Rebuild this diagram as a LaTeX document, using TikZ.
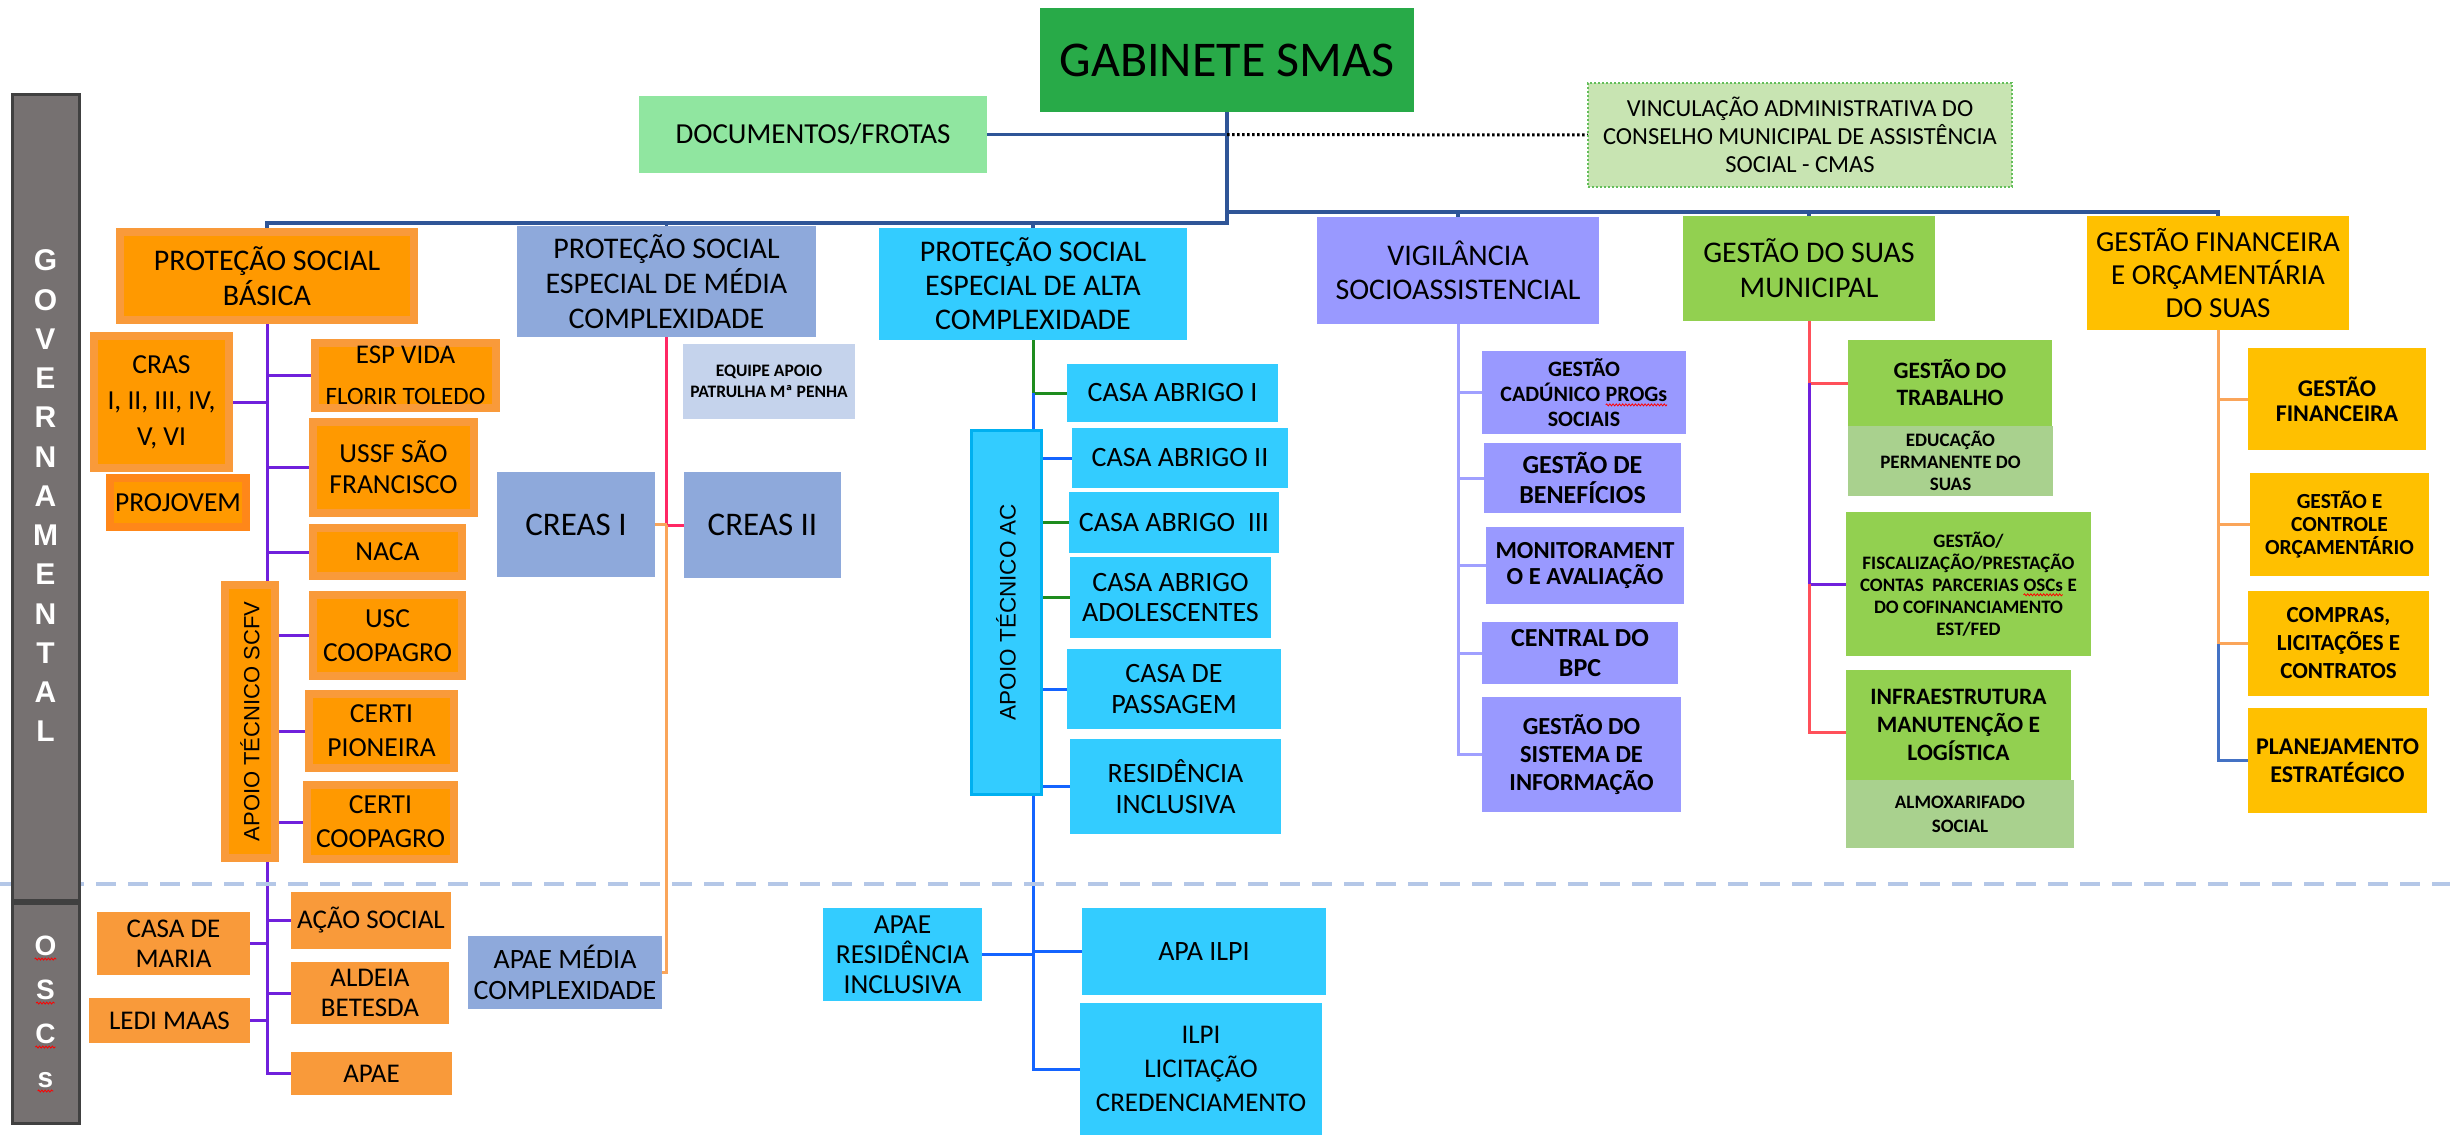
\documentclass[tikz,border=0pt]{standalone}
\usepackage{fontspec}
\setmainfont{Carlito}
\newfontfamily\rotfont{Liberation Sans}
\usepackage{graphicx}
\usetikzlibrary{decorations.pathmorphing}
\pgfdeclarelayer{bg}
\pgfsetlayers{bg,main}

\definecolor{mainblue}{RGB}{47,85,151}
\definecolor{gabgreen}{RGB}{40,170,72}
\definecolor{docgreen}{RGB}{144,230,160}
\definecolor{vincfill}{RGB}{200,228,178}
\definecolor{vincline}{RGB}{100,190,90}
\definecolor{orIn}{RGB}{255,153,0}
\definecolor{orOut}{RGB}{249,154,58}
\definecolor{orDark}{RGB}{255,135,25}
\definecolor{orOsc}{RGB}{249,154,58}
\definecolor{bluegray}{RGB}{142,169,219}
\definecolor{paleblue}{RGB}{197,211,236}
\definecolor{cyanbox}{RGB}{51,204,255}
\definecolor{cyanline}{RGB}{0,176,240}
\definecolor{violetbox}{RGB}{153,153,255}
\definecolor{limegreen}{RGB}{146,208,80}
\definecolor{sagegreen}{RGB}{169,209,142}
\definecolor{goldbox}{RGB}{255,192,0}
\definecolor{barfill}{RGB}{118,113,113}
\definecolor{barline}{RGB}{64,64,64}
\definecolor{sepline}{RGB}{180,199,231}
\definecolor{purpleline}{RGB}{112,32,220}
\definecolor{pinkline}{RGB}{255,40,100}
\definecolor{orangeline}{RGB}{250,165,90}
\definecolor{greenline}{RGB}{30,140,30}
\definecolor{blueline}{RGB}{20,100,255}
\definecolor{violetline}{RGB}{160,160,255}
\definecolor{redline}{RGB}{255,80,90}
\definecolor{gfblue}{RGB}{68,114,196}

\newcommand\spell[2][black]{\tikz[baseline=(w.base)]{\node[inner sep=0pt, outer sep=0pt, minimum size=0pt, shape=rectangle, text=#1] (w) {#2}; \draw[red, line width=0.8pt, decorate, decoration={snake, amplitude=1pt, segment length=3.2pt}] ([yshift=-3.5pt]w.base west) -- ([yshift=-3.5pt]w.base east);}}
\newcommand{\bx}[7]{\node[#2, minimum width={#5-#3}, minimum height={#6-#4}] (#1) at ({(#3+#5)/2},{(#4+#6)/2}) {#7};}

\tikzset{
  box/.style={inner sep=0pt, outer sep=0pt, align=center, text=black},
  frameor/.style={box, fill=orOut, path picture={\fill[orIn] ([shift={(8pt,8pt)}]path picture bounding box.south west) rectangle ([shift={(-8pt,-8pt)}]path picture bounding box.north east);}},
  frameproj/.style={frameor, fill=orDark},
  oscbox/.style={box, fill=orOsc},
  bar/.style={box, fill=barfill, draw=barline, line width=3pt},
  fs/.style 2 args={font=\fontsize{#1}{#2}\selectfont},
  fb/.style 2 args={font=\bfseries\fontsize{#1}{#2}\selectfont},
  mainc/.style={draw=mainblue, line width=3.5pt},
  purp/.style={draw=purpleline, line width=3pt},
  pinkc/.style={draw=pinkline, line width=3pt},
  orc/.style={draw=orangeline, line width=3pt},
  grc/.style={draw=greenline, line width=3pt},
  blc/.style={draw=blueline, line width=3pt},
  vic/.style={draw=violetline, line width=3pt},
  redc/.style={draw=redline, line width=3pt},
  gfb/.style={draw=gfblue, line width=3pt},
}

\begin{document}
\begin{tikzpicture}[x=1pt,y=-1pt]
\useasboundingbox (0,0) rectangle (2450,1138);

% side bars
\bx{gov}{bar}{12}{94}{79}{900}{}
\bx{osc}{bar}{12}{903}{79}{1123}{}
\node[box, anchor=north, text=white, font=\rotfont\bfseries\fontsize{30}{39.25}\selectfont] (govtext) at (45.5,250) {G\\O\\V\\E\\R\\N\\A\\M\\E\\N\\T\\A\\L};
\node[box, anchor=north, text=white, font=\rotfont\bfseries\fontsize{28}{44}\selectfont] (osctext) at (45.5,936) {\spell[white]{O}\\\spell[white]{S}\\\spell[white]{C}\\\spell[white]{s}};

% top
\bx{gab}{box, fill=gabgreen, fs={50}{60}}{1040}{8}{1414}{112}{GABINETE SMAS}
\bx{doc}{box, fill=docgreen, fs={29}{35}}{639}{96}{987}{173}{DOCUMENTOS/FROTAS}
\bx{vinc}{box, fill=vincfill, draw=vincline, dotted, line width=2pt, fs={24.5}{28}}{1588}{83}{2012}{187}{VINCULAÇÃO ADMINISTRATIVA DO\\CONSELHO MUNICIPAL DE ASSISTÊNCIA\\SOCIAL - CMAS}

% level 1
\bx{psb}{frameor, fs={30}{35}}{116}{228}{418}{324}{PROTEÇÃO SOCIAL\\BÁSICA}
\bx{psem}{box, fill=bluegray, fs={30}{35}}{517}{226}{816}{337}{PROTEÇÃO SOCIAL\\ESPECIAL DE MÉDIA\\COMPLEXIDADE}
\bx{psea}{box, fill=cyanbox, fs={30}{34}}{879}{228}{1187}{340}{PROTEÇÃO SOCIAL\\ESPECIAL DE ALTA\\COMPLEXIDADE}
\bx{vig}{box, fill=violetbox, fs={30}{34}}{1317}{217}{1599}{324}{VIGILÂNCIA\\SOCIOASSISTENCIAL}
\bx{gsm}{box, fill=limegreen, fs={30}{35}}{1683}{216}{1935}{321}{GESTÃO DO SUAS\\MUNICIPAL}
\bx{gfo}{box, fill=goldbox, fs={29}{33}}{2087}{216}{2349}{330}{GESTÃO FINANCEIRA\\E ORÇAMENTÁRIA\\DO SUAS}

% PSB children
\bx{cras}{frameor, fs={27.5}{36}}{90}{332}{233}{472}{CRAS\\I, II, III, IV,\\V, VI}
\bx{esp}{frameor, fs={25}{41}}{311}{339}{500}{412}{{\fontsize{27}{41}\selectfont ESP VIDA}\\FLORIR TOLEDO}
\bx{ussf}{frameor, fs={27.5}{31}}{309}{418}{478}{517}{USSF SÃO\\FRANCISCO}
\bx{proj}{frameproj, fs={27.5}{33}}{106}{474}{250}{531}{PROJOVEM}
\bx{naca}{frameor, fs={27.5}{33}}{309}{524}{466}{580}{NACA}
\bx{scfv}{frameor}{221}{581}{279}{862}{\rotatebox{90}{\rotfont\fontsize{22}{26}\selectfont APOIO TÉCNICO SCFV}}
\bx{usc}{frameor, fs={27.5}{34}}{309}{591}{466}{680}{USC\\COOPAGRO}
\bx{certip}{frameor, fs={27.5}{34}}{305}{690}{458}{772}{CERTI\\PIONEIRA}
\bx{certic}{frameor, fs={27.5}{34}}{303}{781}{458}{863}{CERTI\\COOPAGRO}
\bx{acao}{oscbox, fs={27}{30}}{291}{892}{451}{949}{AÇÃO SOCIAL}
\bx{casam}{oscbox, fs={27}{30}}{97}{912}{250}{975}{CASA DE\\MARIA}
\bx{aldeia}{oscbox, fs={27}{30}}{291}{962}{449}{1024}{ALDEIA\\BETESDA}
\bx{ledi}{oscbox, fs={27}{30}}{89}{998}{250}{1043}{LEDI MAAS}
\bx{apae}{oscbox, fs={27}{30}}{291}{1052}{452}{1095}{APAE}

% PSEM children
\bx{equipe}{box, fill=paleblue, fb={17.5}{21}}{683}{344}{855}{419}{EQUIPE APOIO\\PATRULHA Mª PENHA}
\bx{creas1}{box, fill=bluegray, fs={33}{36}}{497}{472}{655}{577}{CREAS I}
\bx{creas2}{box, fill=bluegray, fs={33}{36}}{684}{472}{841}{578}{CREAS II}
\bx{apaem}{box, fill=bluegray, fs={28}{31}}{468}{936}{662}{1009}{APAE MÉDIA\\COMPLEXIDADE}

% PSEA children
\bx{ac}{box, fill=cyanbox, draw=cyanline, line width=3pt}{971}{430}{1041}{794}{\rotatebox{90}{\rotfont\fontsize{22.5}{26}\selectfont APOIO TÉCNICO AC}}
\bx{ca1}{box, fill=cyanbox, fs={28}{30}}{1067}{364}{1278}{422}{CASA ABRIGO I}
\bx{ca2}{box, fill=cyanbox, fs={28}{30}}{1072}{428}{1288}{488}{CASA ABRIGO II}
\bx{ca3}{box, fill=cyanbox, fs={28}{30}}{1069}{492}{1279}{553}{CASA ABRIGO~~III}
\bx{adol}{box, fill=cyanbox, fs={28}{30}}{1070}{557}{1271}{638}{CASA ABRIGO\\ADOLESCENTES}
\bx{pass}{box, fill=cyanbox, fs={28}{31}}{1067}{649}{1281}{729}{CASA DE\\PASSAGEM}
\bx{resid}{box, fill=cyanbox, fs={28}{31}}{1070}{739}{1281}{834}{RESIDÊNCIA\\INCLUSIVA}
\bx{apaer}{box, fill=cyanbox, fs={27.5}{30}}{823}{908}{982}{1001}{APAE\\RESIDÊNCIA\\INCLUSIVA}
\bx{apailpi}{box, fill=cyanbox, fs={28}{30}}{1082}{908}{1326}{995}{APA ILPI}
\bx{ilpi}{box, fill=cyanbox, fs={27}{34}}{1080}{1003}{1322}{1135}{ILPI\\LICITAÇÃO\\CREDENCIAMENTO}

% VIG children
\bx{cad}{box, fill=violetbox, fb={22}{25}}{1482}{351}{1686}{434}{GESTÃO\\CADÚNICO \spell{PROGs}\\SOCIAIS}
\bx{ben}{box, fill=violetbox, fb={26}{30}}{1484}{443}{1681}{513}{GESTÃO DE\\BENEFÍCIOS}
\bx{mon}{box, fill=violetbox, fb={24.5}{26}}{1486}{527}{1684}{604}{MONITORAMENT\\O E AVALIAÇÃO}
\bx{bpc}{box, fill=violetbox, fb={26}{30}}{1482}{622}{1678}{684}{CENTRAL DO\\BPC}
\bx{sis}{box, fill=violetbox, fb={24.5}{28}}{1482}{697}{1681}{812}{GESTÃO DO\\SISTEMA DE\\INFORMAÇÃO}

% GSM children
\bx{trab}{box, fill=limegreen, fb={23.5}{27}}{1848}{340}{2052}{426}{GESTÃO DO\\TRABALHO}
\bx{edu}{box, fill=sagegreen, fb={19}{22}}{1848}{426}{2053}{496}{EDUCAÇÃO\\PERMANENTE DO\\SUAS}
\bx{fisc}{box, fill=limegreen, fb={19}{22}}{1846}{512}{2091}{656}{GESTÃO/\\FISCALIZAÇÃO/PRESTAÇÃO\\CONTAS~~PARCERIAS \spell{OSCs} E\\DO COFINANCIAMENTO\\EST/FED}
\bx{infra}{box, fill=limegreen, fb={23.5}{28}}{1846}{670}{2071}{780}{INFRAESTRUTURA\\MANUTENÇÃO E\\LOGÍSTICA}
\bx{almox}{box, fill=sagegreen, fb={19}{24}}{1846}{780}{2074}{848}{ALMOXARIFADO\\SOCIAL}

% GF children
\bx{gfin}{box, fill=goldbox, fb={24}{25}}{2248}{348}{2426}{450}{GESTÃO\\FINANCEIRA}
\bx{gco}{box, fill=goldbox, fb={21.5}{23}}{2250}{473}{2429}{576}{GESTÃO E\\CONTROLE\\ORÇAMENTÁRIO}
\bx{comp}{box, fill=goldbox, fb={23}{28}}{2248}{591}{2429}{696}{COMPRAS,\\LICITAÇÕES E\\CONTRATOS}
\bx{plan}{box, fill=goldbox, fb={24}{28}}{2248}{708}{2427}{813}{PLANEJAMENTO\\ESTRATÉGICO}

\coordinate (busl) at (1227,223);
\coordinate (busr) at (1227,212);

\begin{pgfonlayer}{bg}
% main tree
\draw[mainc] (gab.south) -- (busl) -| (psb.north);
\draw[mainc] (busr) -| (gfo.north);
\draw[mainc] (busl -| psem.north) -- (psem.north);
\draw[mainc] (busl -| psea.north) -- (psea.north);
\draw[mainc] (busr -| vig.north) -- (vig.north);
\draw[mainc] (busr -| gsm.north) -- (gsm.north);
\draw[mainc] (doc.east) -- (doc.east -| gab.south);
\draw[black, line width=3pt, dash pattern=on 2.5pt off 2.5pt] (doc.east -| gab.south) -- (vinc.west);
% PSB
\draw[purp] (psb.south) -- (psb.south |- apae.west) -- (apae.west);
\draw[purp] (cras.east) -- (cras.east -| psb.south);
\draw[purp] (esp.west) -- (esp.west -| psb.south);
\draw[purp] (ussf.west) -- (ussf.west -| psb.south);
\draw[purp] (naca.west) -- (naca.west -| psb.south);
\draw[purp] (usc.west) -- (usc.west -| scfv.east);
\draw[purp] (certip.west) -- (certip.west -| scfv.east);
\draw[purp] (certic.west) -- (certic.west -| scfv.east);
\draw[purp] (acao.west) -- (acao.west -| psb.south);
\draw[purp] (casam.east) -- (casam.east -| psb.south);
\draw[purp] (aldeia.west) -- (aldeia.west -| psb.south);
\draw[purp] (ledi.east) -- (ledi.east -| psb.south);
% PSEM
\draw[pinkc] (psem.south) |- (creas2.west);
\draw[orc] (creas1.east) -- (creas1.east -| psem.south);
\draw[orc] (creas2.west -| psem.south) -- (psem.south |- apaem.east) -- (apaem.east);
% PSEA
\draw[grc] (psea.south) |- (ca1.west);
\draw[blc] (ca1.west -| psea.south) -- (psea.south |- ilpi.west) -- (ilpi.west);
\draw[blc] (ca2.west) -- (ca2.west -| ac.east);
\draw[grc] (ca3.west) -- (ca3.west -| ac.east);
\draw[grc] (adol.west) -- (adol.west -| ac.east);
\draw[blc] (pass.west) -- (pass.west -| ac.east);
\draw[blc] (resid.west) -- (resid.west -| ac.east);
\draw[blc] (apaer.east) -- (apaer.east -| psea.south);
\draw[blc] (apailpi.west) -- (apailpi.west -| psea.south);
% VIG
\draw[vic] (vig.south) |- (sis.west);
\draw[vic] (cad.west) -- (cad.west -| vig.south);
\draw[vic] (ben.west) -- (ben.west -| vig.south);
\draw[vic] (mon.west) -- (mon.west -| vig.south);
\draw[vic] (bpc.west) -- (bpc.west -| vig.south);
% GSM
\draw[redc] (gsm.south) |- (trab.west);
\draw[purp] (trab.west -| gsm.south) |- (fisc.west);
\draw[redc] (fisc.west -| gsm.south) |- ([yshift=-7pt]infra.west);
% GF
\draw[orc] (gfo.south) |- (comp.west);
\draw[orc] (gfin.west) -- (gfin.west -| gfo.south);
\draw[orc] (gco.west) -- (gco.west -| gfo.south);
\draw[gfb] (comp.west -| gfo.south) |- (plan.west);
% separator
\draw[sepline, line width=4pt, dash pattern=on 20pt off 12pt] (0,884) -- (2450,884);
\end{pgfonlayer}
\end{tikzpicture}
\end{document}
